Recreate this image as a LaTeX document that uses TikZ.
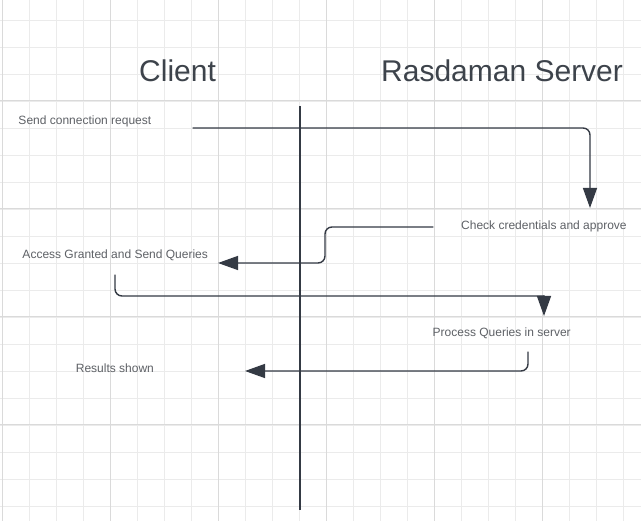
\documentclass[tikz,border=0pt]{standalone}
\usepackage{fontspec}
\setmainfont{Liberation Sans}
\usetikzlibrary{arrows.meta}
\usetikzlibrary{positioning}
\definecolor{inkdark}{HTML}{343A44}
\definecolor{txtgray}{HTML}{5E6166}
\definecolor{headgray}{HTML}{3D434B}
\definecolor{gridminor}{HTML}{EBEBEB}
\definecolor{gridmajor}{HTML}{DADADA}
\tikzstyle{every node}=[font=\fontsize{12}{14}\selectfont,text=txtgray,inner sep=0pt]
\tikzstyle{every path}=[line cap=round,line join=round]
\tikzstyle{headline}=[font=\fontsize{30}{36}\selectfont,text=headgray,anchor=base west]
\tikzstyle{msg}=[anchor=base west]
\tikzstyle{wire}=[draw=inkdark,line width=1.4pt,rounded corners=7pt]
\tikzstyle{flow}=[wire,-{Triangle[length=20pt,width=14pt]}]

\begin{document}
\begin{tikzpicture}[x=1pt,y=-1pt]
  \useasboundingbox (0,0) rectangle (641,521);
  \fill[white] (0,0) rectangle (641,521);
  % grid
  \foreach \gx in {0,...,23}
    \draw[gridminor,line width=0.8pt] ({2.7+27*\gx},0)--++(0,521);
  \foreach \gy in {1,...,19}
    \draw[gridminor,line width=0.8pt] (0,{-7+27*\gy})--++(641,0);
  \foreach \gx in {0,...,5}
    \draw[gridmajor,line width=1pt] ({2.7+108*\gx},0)--++(0,521);
  \foreach \gy in {1,...,4}
    \draw[gridmajor,line width=1pt] (0,{-7+108*\gy})--++(641,0);

  \node[headline] (client) at (139,81.7) {Client};
  \node[headline] (server) at (381,81.7) {Rasdaman Server};

  \coordinate (lanetop) at (300,106);
  \coordinate (lanebot) at (300,510);
  \draw[inkdark,line width=2.2pt,line cap=butt] (lanetop)--(lanebot);

  \node[msg] (request) at (18.3,124.5) {Send connection request};
  \node[msg] (check) at (461,229.3) {Check credentials and approve};
  \node[msg] (access) at (22.3,259) {Access Granted and Send Queries};
  \node[msg] (process) at (432.5,337) {Process Queries in server};
  \node[msg] (results) at (75.7,372.3) {Results shown};

  \coordinate (reqstart) at (193,128);
  \coordinate (reqend) at (590,208);
  \draw[flow] (reqstart) -| (reqend);

  \coordinate (okstart) at (433,227);
  \coordinate (okbend) at (325,245);
  \coordinate (okend) at (218,263);
  \draw[flow] (okstart) -| (okbend) |- (okend);

  \coordinate (qstart) at (115,275);
  \coordinate (qbend) at (544,296);
  \coordinate (qend) at (544,316);
  \draw[wire] (qstart) |- (qbend);
  \draw[flow] (qbend)--(qend);

  \coordinate (resstart) at (528,352);
  \coordinate (resend) at (245,371);
  \draw[flow] (resstart) |- (resend);
\end{tikzpicture}
\end{document}
